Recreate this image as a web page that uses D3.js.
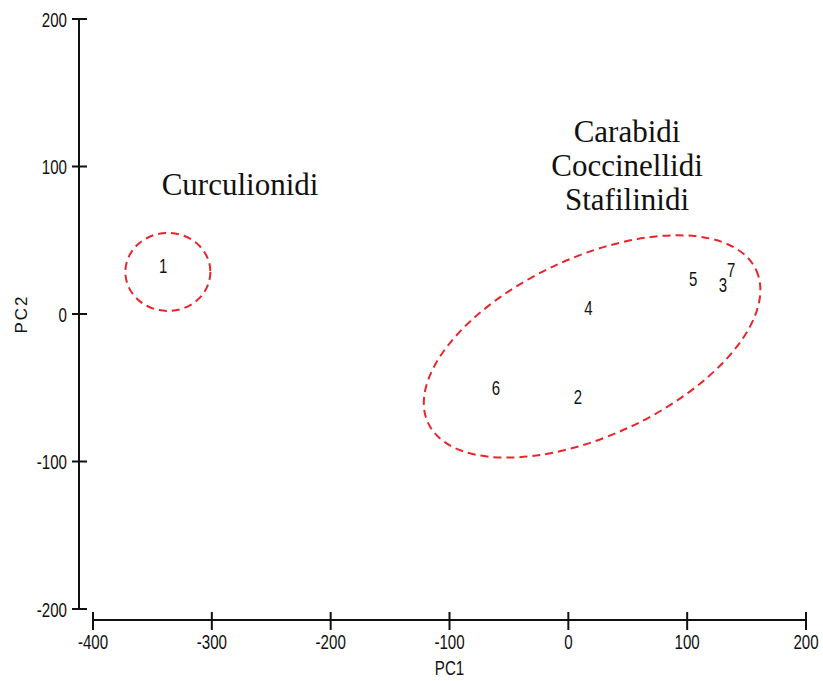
<!DOCTYPE html>
<html>
<head>
<meta charset="utf-8">
<script src="https://cdn.jsdelivr.net/npm/d3@7"></script>
<style>
html,body{margin:0;padding:0;background:#fff;}
svg{display:block;}
</style>
</head>
<body>
<svg id="chart" width="823" height="681"></svg>
<script>
const labels = ["1","2","3","4","5","6","7"];
const pc1 = [-341, 8, 130, 17, 105, -61, 137];
const pc2 = [33, -56, 20, 4, 24, -50, 30];
const xTicks = [-400, -300, -200, -100, 0, 100, 200];
const yTicks = [-200, -100, 0, 100, 200];
const groupNames = [["Curculionidi"], ["Carabidi", "Coccinellidi", "Stafilinidi"]];
const groupCenterX = [-337, 20];
const groupCenterY = [28.5, -22];

const svg = d3.select("#chart");
const x = d3.scaleLinear().domain([-400, 200]).range([93, 806]);
const y = d3.scaleLinear().domain([-200, 200]).range([609, 19]);
const sansFont = "'Liberation Sans', Arial, sans-serif";
const serifFont = "'Liberation Serif', 'Times New Roman', serif";
const SX = 0.72;

// X axis
const xAxisG = svg.append("g").attr("transform", "translate(0,620)");
xAxisG.append("line").attr("x1", x(-400)).attr("x2", x(200)).attr("y1", 0).attr("y2", 0)
  .attr("stroke", "#111").attr("stroke-width", 2);
xAxisG.selectAll("line.tick").data(xTicks).enter().append("line").attr("class", "tick")
  .attr("x1", d => x(d)).attr("x2", d => x(d)).attr("y1", -8).attr("y2", 10)
  .attr("stroke", "#111").attr("stroke-width", 2);
xAxisG.selectAll("text").data(xTicks).enter().append("text")
  .attr("transform", d => "translate(" + x(d) + ",29) scale(" + SX + ",1)")
  .attr("text-anchor", "middle")
  .attr("font-family", sansFont).attr("font-size", 21).attr("fill", "#111")
  .text(d => d);

// Y axis
const yAxisG = svg.append("g").attr("transform", "translate(79,0)");
yAxisG.append("line").attr("x1", 0).attr("x2", 0).attr("y1", y(200)).attr("y2", y(-200))
  .attr("stroke", "#111").attr("stroke-width", 2);
yAxisG.selectAll("line.tick").data(yTicks).enter().append("line").attr("class", "tick")
  .attr("x1", -7).attr("x2", 8).attr("y1", d => y(d)).attr("y2", d => y(d))
  .attr("stroke", "#111").attr("stroke-width", 2);
yAxisG.selectAll("text").data(yTicks).enter().append("text")
  .attr("transform", d => "translate(-12," + y(d) + ") scale(" + SX + ",1)")
  .attr("dy", "0.36em").attr("text-anchor", "end")
  .attr("font-family", sansFont).attr("font-size", 21).attr("fill", "#111")
  .text(d => d);

// Axis titles
svg.append("text").attr("transform", "translate(" + x(-100) + ",675) scale(" + SX + ",1)")
  .attr("text-anchor", "middle")
  .attr("font-family", sansFont).attr("font-size", 21).attr("fill", "#111").text("PC1");
svg.append("text").attr("transform", "translate(27," + y(0) + ") rotate(-90)")
  .attr("text-anchor", "middle").attr("letter-spacing", 2)
  .attr("font-family", sansFont).attr("font-size", 17).attr("fill", "#111").text("PC2");

// Group ellipses (pixel radii / rotation)
const ellipseShape = [{rx: 42.5, ry: 39, rot: 0}, {rx: 181, ry: 89, rot: -25}];
svg.selectAll("ellipse.grp").data(ellipseShape).enter().append("ellipse").attr("class", "grp")
  .attr("transform", (d, i) => "translate(" + x(groupCenterX[i]) + "," + y(groupCenterY[i]) + ") rotate(" + d.rot + ")")
  .attr("rx", d => d.rx).attr("ry", d => d.ry)
  .attr("fill", "none").attr("stroke", "#e8262a").attr("stroke-width", 2)
  .attr("stroke-dasharray", "8,5");

// Point labels
svg.selectAll("text.pt").data(labels).enter().append("text").attr("class", "pt")
  .attr("transform", (d, i) => "translate(" + x(pc1[i]) + "," + y(pc2[i]) + ") scale(0.75,1)")
  .attr("dy", "0.36em").attr("text-anchor", "middle")
  .attr("font-family", sansFont).attr("font-size", 20).attr("fill", "#111")
  .text(d => d);

// Group annotations
const annoPos = [{cx: 240, y0: 195}, {cx: 627, y0: 142}];
groupNames.forEach((lines, gi) => {
  svg.selectAll(null).data(lines).enter().append("text")
    .attr("x", annoPos[gi].cx).attr("y", (d, j) => annoPos[gi].y0 + j * 34)
    .attr("text-anchor", "middle")
    .attr("font-family", serifFont).attr("font-size", 31).attr("fill", "#111")
    .text(d => d);
});
</script>
</body>
</html>
